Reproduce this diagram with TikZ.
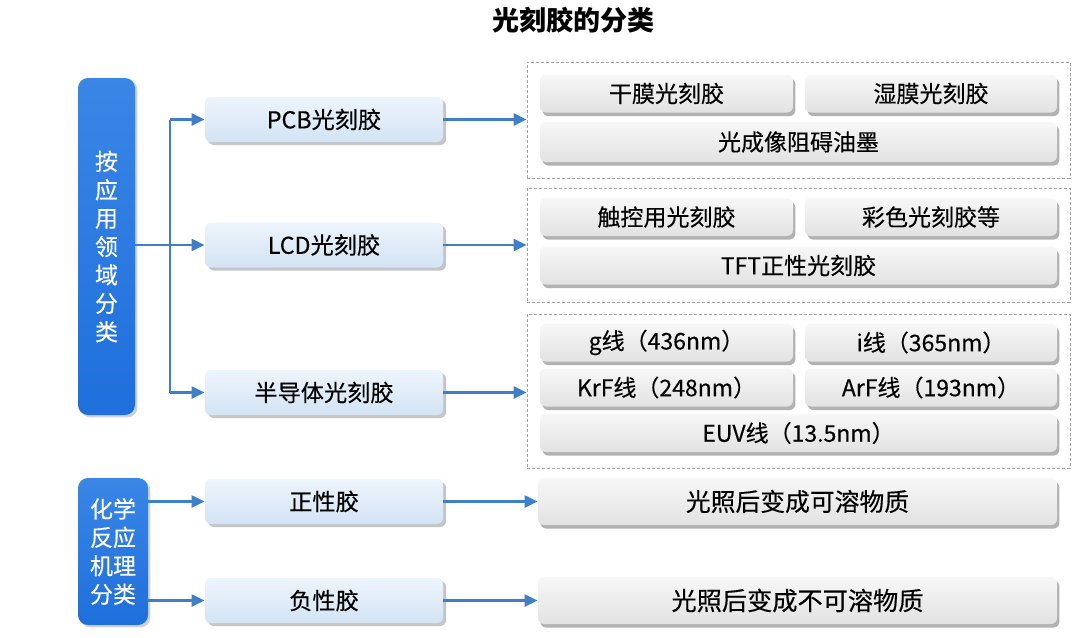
\documentclass[tikz,border=0pt]{standalone}
\usepackage{fontspec}
\setmainfont{Noto Sans CJK SC}
\newfontfamily\boxfont{Noto Sans CJK SC}[FakeBold=0.35]
\usepackage{tikz}
\usetikzlibrary{arrows.meta,shadows,positioning}
\definecolor{catblue}{HTML}{1F6FDC}
\definecolor{catblueup}{HTML}{3A86E6}
\definecolor{arrowblue}{HTML}{3F7FC8}
\definecolor{midtop}{HTML}{EDF4FC}
\definecolor{midbot}{HTML}{D3E4F4}
\definecolor{itemtop}{HTML}{F7F7F7}
\definecolor{itembot}{HTML}{E2E2E2}

\begin{document}
\begin{tikzpicture}[
    x=0.5pt, y=-0.5pt,
    catbox/.style={rounded corners=5pt, top color=catblueup, bottom color=catblue,
                   draw=none, text=white, align=center, inner sep=0pt,
                   drop shadow={shadow xshift=1.2pt, shadow yshift=-1.2pt, fill=black!35, opacity=0.5},
                   font=\boxfont\fontsize{11.5}{14.2}\selectfont},
    midbox/.style={rounded corners=3pt, top color=midtop, bottom color=midbot,
                   minimum width=119pt, minimum height=22.5pt, inner sep=0pt,
                   drop shadow={shadow xshift=1.5pt, shadow yshift=-1.5pt, fill=black!45, opacity=0.5},
                   font=\boxfont\fontsize{11.6}{13}\selectfont},
    itembox/.style={rounded corners=3pt, top color=itemtop, bottom color=itembot,
                    minimum width=#1, minimum height=19pt, inner sep=0pt,
                    drop shadow={shadow xshift=1.2pt, shadow yshift=-1.8pt, fill=black!55, opacity=0.55},
                    font=\boxfont\fontsize{11.5}{13}\selectfont},
    group/.style={draw=black!35, line width=0.4pt, dash pattern=on 1.5pt off 1pt,
                  minimum width=271.5pt, minimum height=#1, inner sep=0pt},
    arr/.style={draw=arrowblue, line width=1.1pt, -{Triangle[length=6.5pt, width=6pt]}}
]
    \useasboundingbox[fill=white] (0,0) rectangle (1080,637);

    % Title
    \node[font=\fontsize{13.5}{16}\selectfont\bfseries] (title) at (573,20) {光刻胶的分类};

    % Classification boxes
    \node[catbox, minimum width=28.5pt, minimum height=168.5pt] (byuse) at (106.5,246.5)
        {按\\应\\用\\领\\域\\分\\类};
    \node[catbox, minimum width=35pt, minimum height=73.5pt] (bychem) at (113,551.5)
        {化学\\反应\\机理\\分类};

    % Middle level
    \node[midbox] (pcb) at (324,119.5) {PCB光刻胶};
    \node[midbox] (lcd) at (324,245) {LCD光刻胶};
    \node[midbox] (semi) at (324,392.5) {半导体光刻胶};
    \node[midbox] (pos) at (324,501.5) {正性胶};
    \node[midbox] (neg) at (324,600.5) {负性胶};

    % Dashed groups
    \node[group=58pt] (gpcb) at (798.5,120) {};
    \node[group=57pt] (glcd) at (798.5,245) {};
    \node[group=77pt] (gsemi) at (798.5,391) {};

    % PCB items
    \node[itembox=126.5pt] (dry) at (666.5,93.5) {干膜光刻胶};
    \node[itembox=126pt] (wet) at (931,93.5) {湿膜光刻胶};
    \node[itembox=258.5pt, minimum height=20pt] (ink) at (798.5,142) {光成像阻碍油墨};

    % LCD items
    \node[itembox=126.5pt] (touch) at (666.5,217) {触控用光刻胶};
    \node[itembox=126pt] (color) at (931,217) {彩色光刻胶等};
    \node[itembox=258.5pt] (tft) at (798.5,265.5) {TFT正性光刻胶};

    % Semiconductor items
    \node[itembox=126.5pt] (gline) at (666.5,342.5) {g线（436nm）};
    \node[itembox=126pt] (iline) at (931,342.5) {i线（365nm）};
    \node[itembox=126.5pt] (krf) at (666.5,387.5) {KrF线（248nm）};
    \node[itembox=126pt] (arf) at (931,387.5) {ArF线（193nm）};
    \node[itembox=258.5pt] (euv) at (798.5,433) {EUV线（13.5nm）};

    % Results
    \node[itembox=259.5pt, minimum height=23.5pt, font=\boxfont\fontsize{12.4}{14}\selectfont] (sol) at (797.5,501.5) {光照后变成可溶物质};
    \node[itembox=259.5pt, minimum height=23.5pt, font=\boxfont\fontsize{12.6}{14}\selectfont] (insol) at (797.5,600.5) {光照后变成不可溶物质};

    % Arrows from application box
    \coordinate (trunk) at (170,0);
    \draw[draw=arrowblue, line width=1.1pt] (trunk |- pcb) -- (trunk |- semi);
    \draw[arr] (byuse.east |- lcd) -- (lcd.west);
    \foreach \b in {pcb, semi} {
        \draw[arr] (trunk |- \b) -- (\b.west);
    }

    % Arrows from chemistry box
    \foreach \b in {pos, neg} {
        \draw[arr] (bychem.east |- \b) -- (\b.west);
    }

    % Arrows to the right
    \foreach \a/\b in {pcb/gpcb, lcd/glcd, semi/gsemi} {
        \draw[arr] (\a.east) -- (\b.west |- \a);
    }
    \foreach \a/\b in {pos/sol, neg/insol} {
        \draw[arr] (\a.east) -- (\b.west |- \a);
    }
\end{tikzpicture}
\end{document}
